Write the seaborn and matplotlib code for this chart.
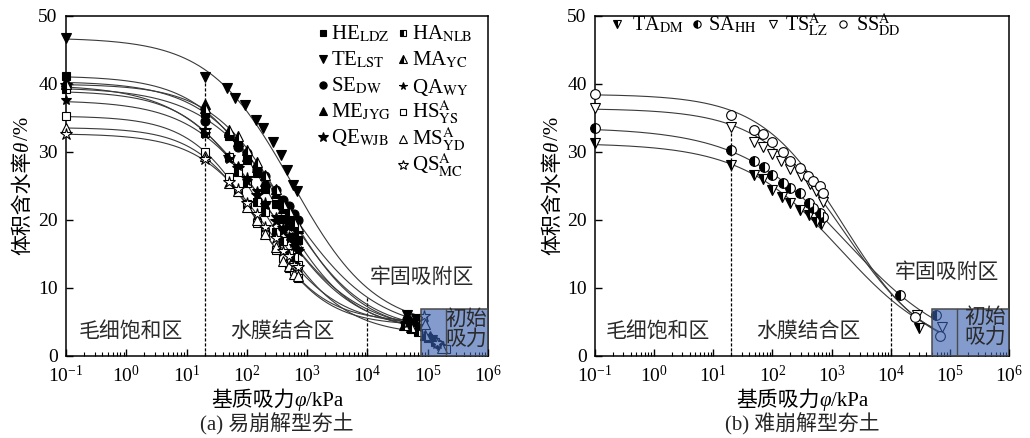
import numpy as np
import pandas as pd
import matplotlib
matplotlib.use("Agg")
import matplotlib.pyplot as plt
import seaborn as sns
from matplotlib.lines import Line2D
from matplotlib.patches import Rectangle
from matplotlib.ticker import FixedLocator, NullFormatter, LogFormatterSciNotation
from matplotlib.transforms import IdentityTransform

sns.set_theme(style="ticks")
plt.rcParams["font.family"] = ["Liberation Serif", "Noto Sans CJK SC", "DejaVu Serif"]
plt.rcParams["mathtext.fontset"] = "stix"
plt.rcParams["axes.unicode_minus"] = False

# ---------------- data: panel (a) ----------------
names_a = ["HE", "TE", "SE", "ME", "QE", "HA", "MA", "QA", "HS", "MS", "QS"]
labels_a = [r"HE$_{\rm LDZ}$", r"TE$_{\rm LST}$", r"SE$_{\rm DW}$", r"ME$_{\rm JYG}$",
            r"QE$_{\rm WJB}$", r"HA$_{\rm NLB}$", r"MA$_{\rm YC}$", r"QA$_{\rm WY}$",
            r"HS$^{\rm A}_{\rm YS}$", r"MS$^{\rm A}_{\rm YD}$", r"QS$^{\rm A}_{\rm MC}$"]

h_mid = [0.1, 20, 50, 70, 100, 150, 200, 300, 400, 500, 600, 700]

h_HE = h_mid + [4.2e4, 5.5e4, 1.0e5]
t_HE = [41.2, 35.7, 32.3, 31.2, 28.8, 26.9, 24.6, 22.4, 20.1, 19.3, 17.5, 17.1, 4.6, 4.2, 2.6]
h_TE = [0.1, 20, 46, 63, 93, 142, 187, 275, 365, 457, 590, 675, 4.6e4, 6.5e4, 1.2e5]
t_TE = [46.8, 41.1, 39.4, 37.9, 36.9, 34.7, 33.5, 31.4, 29.6, 27.4, 25.1, 24.2, 6.0, 5.4, 2.3]
h_SE = h_mid + [4.5e4, 5.8e4, 1.5e5]
t_SE = [39.5, 34.6, 32.5, 30.8, 29.8, 27.5, 26.4, 24.4, 23.0, 22.0, 20.9, 20.0, 5.4, 4.9, 1.7]
h_ME = h_mid + [5.0e4, 6.3e4, 1.1e5]
t_ME = [40.4, 37.1, 32.9, 31.6, 29.4, 27.8, 25.8, 23.9, 21.7, 20.8, 19.3, 18.8, 4.9, 4.4, 2.9]
h_QE = h_mid + [4.4e4, 6.0e4, 1.8e5]
t_QE = [39.9, 33.3, 29.2, 27.6, 26.2, 23.7, 22.5, 19.9, 18.8, 17.2, 16.7, 15.5, 4.7, 4.1, 1.3]
h_HA = h_mid + [5.2e4, 7.0e4, 1.3e5]
t_HA = [39.2, 32.8, 29.3, 27.1, 25.5, 22.6, 21.2, 18.2, 16.9, 15.2, 14.6, 13.4, 3.9, 3.5, 2.0]
h_MA = h_mid + [4.0e4, 5.2e4, 9.0e4]
t_MA = [40.0, 36.5, 33.3, 32.4, 30.3, 28.6, 26.6, 24.5, 22.3, 21.3, 19.7, 19.1, 4.6, 4.2, 3.1]
h_QA = h_mid + [4.7e4, 6.8e4, 1.6e5]
t_QA = [37.6, 32.6, 29.0, 27.9, 25.8, 24.2, 22.2, 20.4, 18.4, 17.6, 16.2, 15.8, 4.8, 4.3, 1.5]
h_HS = h_mid + [8.5e4, 2.0e5]
t_HS = [35.3, 30.0, 26.3, 24.1, 22.4, 19.6, 18.3, 15.6, 14.4, 12.9, 12.5, 11.4, 5.3, 1.0]
h_MS = h_mid + [9.0e4, 1.7e5]
t_MS = [33.6, 29.4, 25.5, 24.3, 21.9, 20.0, 17.9, 16.0, 14.0, 13.3, 12.0, 11.7, 4.7, 1.2]
h_QS = h_mid + [8.8e4, 1.4e5]
t_QS = [32.7, 28.9, 25.6, 24.6, 22.5, 20.9, 19.0, 17.3, 15.4, 14.7, 13.4, 13.1, 5.9, 1.9]

# fitted SWCC parameters (theta_s, theta_r, h0, n) for panel (a)
ts_a = [41.2, 46.8, 39.5, 40.4, 39.9, 39.0, 40.0, 37.6, 35.3, 33.6, 32.7]
tr_a = [3.5, 4.0, 3.5, 3.5, 3.5, 3.0, 3.5, 3.5, 5.0, 4.5, 4.5]
h0_a = [295, 560, 500, 400, 224, 200, 450, 280, 142, 170, 224]
n_a = [0.69, 0.63, 0.60, 0.65, 0.60, 0.70, 0.70, 0.65, 0.80, 0.81, 0.75]

# ---------------- data: panel (b) ----------------
labels_b = [r"TA$_{\rm DM}$", r"SA$_{\rm HH}$", r"TS$^{\rm A}_{\rm LZ}$", r"SS$^{\rm A}_{\rm DD}$"]
h_TA = [0.1, 20, 48, 68, 97, 145, 200, 295, 410, 550, 650, 2.95e4]
t_TA = [31.3, 28.1, 26.6, 26.0, 24.4, 23.4, 22.5, 21.5, 20.7, 19.7, 19.4, 4.1]
h_SA = [0.1, 20, 49, 71, 100, 150, 200, 295, 410, 490, 630, 710, 1.45e4, 5.9e4]
t_SA = [33.6, 30.3, 28.7, 27.8, 26.6, 25.5, 24.7, 23.9, 22.5, 21.8, 21.0, 20.4, 9.0, 6.0]
h_TS = [0.1, 20, 48, 68, 100, 140, 200, 310, 435, 550, 710, 2.75e4, 7.4e4]
t_TS = [36.4, 33.7, 31.5, 30.8, 29.7, 28.7, 27.5, 26.4, 25.3, 24.2, 22.7, 6.0, 4.2]
h_SS = [0.1, 20, 49, 69, 100, 150, 200, 295, 395, 490, 630, 730, 2.6e4, 6.9e4]
t_SS = [38.5, 35.4, 33.3, 32.6, 31.4, 30.0, 28.7, 27.6, 26.4, 25.8, 25.0, 24.0, 5.8, 2.9]

ts_b = [31.3, 33.6, 36.4, 38.5]
tr_b = [0.0, 0.0, 0.0, 0.0]
h0_b = [1413, 1758, 1652, 1585]
n_b = [0.52, 0.48, 0.60, 0.62]

x_major = [1e-1, 1e0, 1e1, 1e2, 1e3, 1e4, 1e5, 1e6]
y_major = [0, 10, 20, 30, 40, 50]

# ---------------- styles ----------------
sty_a = [("s", "full", 6), ("v", "full", 7), ("o", "full", 6.5), ("^", "full", 6.5),
         ("*", "full", 9), ("s", "left", 6), ("^", "left", 6.5), ("*", "full", 7),
         ("s", "none", 6), ("^", "none", 6.5), ("*", "none", 9)]
sty_b = [("v", "left", 7.5), ("o", "left", 7), ("v", "none", 7.5), ("o", "none", 7)]

data_a = [(h_HE, t_HE), (h_TE, t_TE), (h_SE, t_SE), (h_ME, t_ME), (h_QE, t_QE),
          (h_HA, t_HA), (h_MA, t_MA), (h_QA, t_QA), (h_HS, t_HS), (h_MS, t_MS), (h_QS, t_QS)]
data_b = [(h_TA, t_TA), (h_SA, t_SA), (h_TS, t_TS), (h_SS, t_SS)]

CURVE = "#3a3a3a"
TXT = "#2a2a2a"
FS = 15


def swcc(h, ts, tr, h0, n):
    return tr + (ts - tr) / (1.0 + (h / h0) ** n)


def draw_curve(ax, ts, tr, h0, n, h_end):
    hh = np.logspace(-1, np.log10(h_end), 300)
    df = pd.DataFrame({"h": hh, "theta": swcc(hh, ts, tr, h0, n)})
    sns.lineplot(data=df, x="h", y="theta", ax=ax, estimator=None, sort=False,
                 legend=False, color=CURVE, linewidth=0.8, zorder=2)


def marker_kws(marker, fill, ms):
    kw = dict(marker=marker, markersize=ms, markeredgecolor="black",
              markeredgewidth=0.8, linestyle="none")
    if fill == "full":
        kw.update(markerfacecolor="black")
    elif fill == "none":
        kw.update(markerfacecolor="white")
    else:
        kw.update(markerfacecolor="black", fillstyle=fill, markerfacecoloralt="white")
    return kw


def draw_points(ax, h, t, marker, fill, ms):
    df = pd.DataFrame({"h": h, "theta": t})
    sns.lineplot(data=df, x="h", y="theta", ax=ax, estimator=None, sort=False,
                 legend=False, color="black", clip_on=False, zorder=3,
                 **marker_kws(marker, fill, ms))


def style_axes(ax):
    ax.set_xscale("log")
    ax.set_xlim(0.1, 1e6)
    ax.set_ylim(0, 50)
    minors = [m * 10.0 ** e for e in range(-1, 6) for m in range(2, 10)]
    ax.xaxis.set_major_locator(FixedLocator(x_major))
    ax.xaxis.set_major_formatter(LogFormatterSciNotation())
    ax.xaxis.set_minor_locator(FixedLocator(minors))
    ax.xaxis.set_minor_formatter(NullFormatter())
    ax.yaxis.set_major_locator(FixedLocator(y_major))
    ax.tick_params(axis="both", which="both", direction="in", top=False, right=False,
                   labelsize=14, colors="black")
    ax.tick_params(axis="x", pad=6.5)
    ax.tick_params(axis="y", pad=6)
    ax.tick_params(which="major", length=5, width=1.0)
    ax.tick_params(which="minor", length=2.8, width=0.8)
    for s in ax.spines.values():
        s.set_linewidth(1.1)
        s.set_color("black")
    ax.set_xlabel("")
    ax.set_ylabel("")


def draw_box(ax, x0, xmid, top):
    ax.add_patch(Rectangle((x0, 0), 1e6 - x0, top, facecolor="#375faf", alpha=0.62,
                           edgecolor="none", zorder=4))
    ax.add_patch(Rectangle((x0, 0), 1e6 - x0, top, fill=False, edgecolor="#4a4a4a",
                           linewidth=1.1, zorder=5))
    ax.plot([xmid, xmid], [0, top], color="#4a4a4a", linewidth=1.0, zorder=5)


fig = plt.figure(figsize=(10.3, 4.38), dpi=100)
fig.patch.set_facecolor("white")
AX1 = (66, 16, 488, 356)    # left, top, right, bottom in pixels
AX2 = (595, 16, 1009, 356)
ax1 = fig.add_axes([AX1[0] / 1030, (438 - AX1[3]) / 438, (AX1[2] - AX1[0]) / 1030, (AX1[3] - AX1[1]) / 438])
ax2 = fig.add_axes([AX2[0] / 1030, (438 - AX2[3]) / 438, (AX2[2] - AX2[0]) / 1030, (AX2[3] - AX2[1]) / 438])
for ax in (ax1, ax2):
    ax.set_xscale("log")

# ----- panel (a) -----
for i in range(len(names_a)):
    draw_curve(ax1, ts_a[i], tr_a[i], h0_a[i], n_a[i], 9e4)
for (h, t), (m, f, ms) in zip(data_a, sty_a):
    draw_points(ax1, h, t, m, f, ms)
ax1.plot([20, 20], [0, 41.1], color="black", linestyle=(0, (2.5, 1.5)), linewidth=0.9, zorder=1)
ax1.plot([1e4, 1e4], [0, 8.7], color="black", linestyle=(0, (2.5, 1.5)), linewidth=0.9, zorder=1)
draw_box(ax1, 7.6e4, 2.0e5, 6.9)
style_axes(ax1)

# ----- panel (b) -----
for i in range(4):
    draw_curve(ax2, ts_b[i], tr_b[i], h0_b[i], n_b[i], max(data_b[i][0][-1], 5e4))
for (h, t), (m, f, ms) in zip(data_b, sty_b):
    draw_points(ax2, h, t, m, f, ms)
ax2.plot([20, 20], [0, 33.7], color="black", linestyle=(0, (2.5, 1.5)), linewidth=0.9, zorder=1)
ax2.plot([1e4, 1e4], [0, 9.5], color="black", linestyle=(0, (2.5, 1.5)), linewidth=0.9, zorder=1)
draw_box(ax2, 5.0e4, 1.3e5, 6.9)
style_axes(ax2)

# ----- region labels -----
ax1.text(1.18, 3.5, "毛细饱和区", ha="center", va="center", fontsize=FS, color=TXT)
ax1.text(390, 3.5, "水膜结合区", ha="center", va="center", fontsize=FS, color=TXT)
ax1.text(7.9e4, 11.5, "牢固吸附区", ha="center", va="center", fontsize=FS, color=TXT)
ax1.text(4.3e5, 3.85, "初始\n吸力", ha="center", va="center", fontsize=FS, color=TXT,
         linespacing=1.0, zorder=6)
ax2.text(1.16, 3.5, "毛细饱和区", ha="center", va="center", fontsize=FS, color=TXT)
ax2.text(400, 3.5, "水膜结合区", ha="center", va="center", fontsize=FS, color=TXT)
ax2.text(8.9e4, 12.2, "牢固吸附区", ha="center", va="center", fontsize=FS, color=TXT)
ax2.text(4.0e5, 4.1, "初始\n吸力", ha="center", va="center", fontsize=FS, color=TXT,
         linespacing=1.0, zorder=6)

# ----- axis labels (mixed upright CJK + italic Greek) & captions -----
renderer = fig.canvas.get_renderer()


def piece_widths(parts):
    ws = []
    for s, style in parts:
        t = fig.text(0.5, 0.5, s, fontsize=FS, fontstyle=style)
        ws.append(t.get_window_extent(renderer).width)
        t.remove()
    return ws


def composite_label(ax, xa, ya, parts, vertical=False):
    ws = piece_widths(parts)
    X, Y = ax.transAxes.transform((xa, ya))
    pos = -sum(ws) / 2.0
    base_off = 0.34 * FS * fig.dpi / 72.0
    for (s, style), w in zip(parts, ws):
        if vertical:
            fig.text(X + base_off, Y + pos, s, transform=IdentityTransform(), fontsize=FS,
                     fontstyle=style, rotation=90, rotation_mode="anchor",
                     ha="left", va="baseline", color="black")
        else:
            fig.text(X + pos, Y - base_off, s, transform=IdentityTransform(), fontsize=FS,
                     fontstyle=style, rotation_mode="anchor", ha="left", va="baseline",
                     color="black")
        pos += w


xparts = [("基质吸力", "normal"), ("φ", "italic"), ("/kPa", "normal")]
yparts = [("体积含水率", "normal"), ("θ", "italic"), ("/%", "normal")]
for ax, cap in ((ax1, "(a) 易崩解型夯土"), (ax2, "(b) 难崩解型夯土")):
    composite_label(ax, 0.5, -0.125, xparts)
    composite_label(ax, -0.106, 0.5, yparts, vertical=True)
    ax.text(0.5, -0.2, cap, transform=ax.transAxes, ha="center", va="center", fontsize=FS)


# ----- legends (key markers + labels at fixed pixel rows, as in the reference) -----
def px2ax(box, px, py):
    l, t, r, b = box
    return (px - l) / (r - l), (b - py) / (b - t)


def legend_entry(ax, box, mx, tx, y, sty, label, scale, fs):
    m, f, ms = sty
    xm, ym = px2ax(box, mx, y)
    ax.add_line(Line2D([xm], [ym], transform=ax.transAxes, clip_on=False, zorder=6,
                       color="black", **marker_kws(m, f, ms * scale)))
    xt, yt = px2ax(box, tx, y + 6.5)
    ax.text(xt, yt, label, transform=ax.transAxes, ha="left", va="baseline",
            fontsize=fs, color="black")


rows_c1 = [33, 59, 85, 111, 137]
rows_c2 = [33, 59, 86, 112, 139, 165]
for i in range(5):
    legend_entry(ax1, AX1, 322.5, 331, rows_c1[i], sty_a[i], labels_a[i], 0.8, FS)
for j in range(6):
    legend_entry(ax1, AX1, 403, 412, rows_c2[j], sty_a[5 + j], labels_a[5 + j], 0.8, FS)

leg_b_marker = [617, 697, 773, 843]
leg_b_text = [632, 708, 785, 856]
for k in range(4):
    legend_entry(ax2, AX2, leg_b_marker[k], leg_b_text[k], 24, sty_b[k], labels_b[k], 0.75, 14.5)

fig.savefig("out.png", dpi=100, facecolor="white")
